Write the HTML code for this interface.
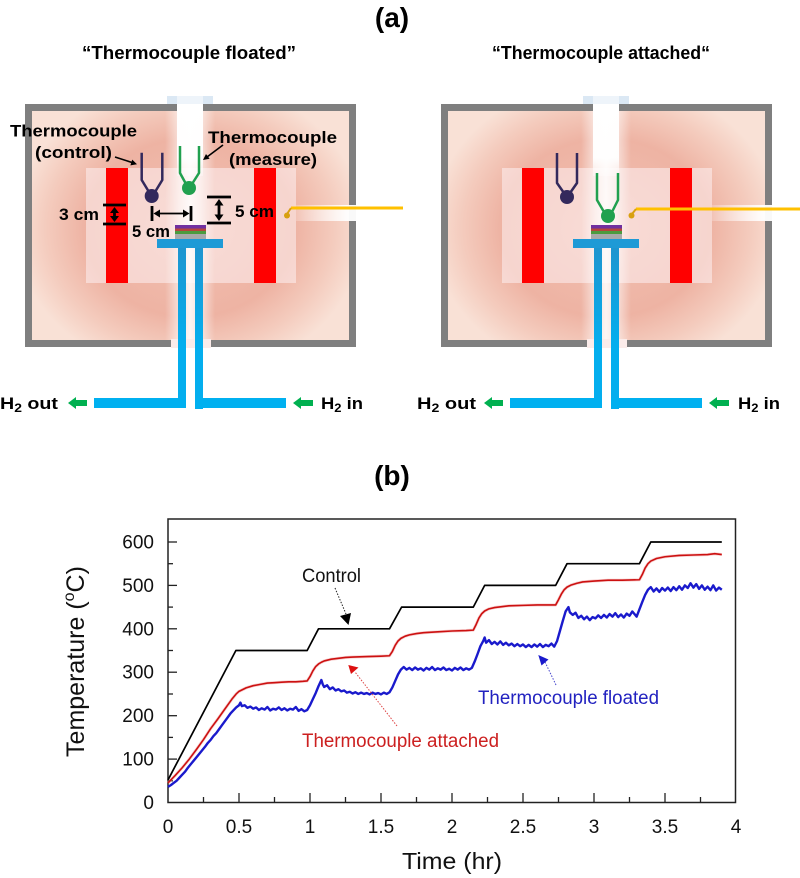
<!DOCTYPE html>
<html>
<head>
<meta charset="utf-8">
<style>
  html, body { margin: 0; padding: 0; background: #fff; }
  svg { display: block; }
</style>
</head>
<body>
<svg width="800" height="878" viewBox="0 0 800 878" xmlns="http://www.w3.org/2000/svg" font-family="'Liberation Sans', Arial, sans-serif">
  <defs>
    <radialGradient id="bg" gradientUnits="userSpaceOnUse" cx="190" cy="228" r="175" gradientTransform="translate(190 228) scale(1 0.85) translate(-190 -228)">
      <stop offset="0" stop-color="#f2c2b4"/>
      <stop offset="0.6" stop-color="#eeb3a3"/>
      <stop offset="0.82" stop-color="#f4cbbd"/>
      <stop offset="1" stop-color="#f9e1d6"/>
    </radialGradient>
    <linearGradient id="cband" x1="0" y1="0" x2="1" y2="0">
      <stop offset="0" stop-color="#fff" stop-opacity="0"/>
      <stop offset="0.3" stop-color="#fff" stop-opacity="0.6"/>
      <stop offset="0.5" stop-color="#fff" stop-opacity="0.85"/>
      <stop offset="0.7" stop-color="#fff" stop-opacity="0.6"/>
      <stop offset="1" stop-color="#fff" stop-opacity="0"/>
    </linearGradient>
    <linearGradient id="topwhite" x1="0" y1="0" x2="0" y2="1">
      <stop offset="0" stop-color="#fff" stop-opacity="1"/>
      <stop offset="0.75" stop-color="#fff" stop-opacity="0.95"/>
      <stop offset="1" stop-color="#fff" stop-opacity="0.3"/>
    </linearGradient>
    <linearGradient id="strip" x1="0" y1="0" x2="1" y2="0">
      <stop offset="0" stop-color="#fff" stop-opacity="0.2"/>
      <stop offset="0.45" stop-color="#fff" stop-opacity="0.95"/>
      <stop offset="1" stop-color="#fff" stop-opacity="1"/>
    </linearGradient>
    <linearGradient id="pipe" gradientUnits="userSpaceOnUse" x1="0" y1="248" x2="0" y2="345">
      <stop offset="0" stop-color="#1f95cf"/>
      <stop offset="1" stop-color="#04aeee"/>
    </linearGradient>
    <g id="furnace">
      <rect x="32" y="111" width="317" height="229" fill="url(#bg)"/>
      <rect x="86" y="168" width="210" height="115" fill="#fdf0f2" fill-opacity="0.55"/>
      <rect x="106" y="168" width="22" height="115" fill="#ff0000"/>
      <rect x="254" y="168" width="22" height="115" fill="#ff0000"/>
      <rect x="165" y="111" width="50" height="229" fill="url(#cband)"/>
      <rect x="177" y="104" width="26" height="72" fill="url(#topwhite)"/>
      <rect x="28.5" y="107.5" width="324" height="236" fill="none" stroke="#7f7f7f" stroke-width="7"/>
      <rect x="177" y="103" width="26" height="9" fill="#fff"/>
      <rect x="167" y="96" width="46" height="8" fill="#dbe8f4"/>
      <rect x="177" y="96" width="26" height="8" fill="#eef4fa"/>
      <rect x="171" y="339" width="40" height="9" fill="#fbecea"/>
      <rect x="296" y="205" width="114" height="16" fill="url(#strip)"/>
      <!-- pipes -->
      <rect x="157" y="239" width="66" height="9" fill="#1e9ad6"/>
      <rect x="178" y="248" width="8" height="160" fill="url(#pipe)"/>
      <rect x="195" y="248" width="8" height="161" fill="url(#pipe)"/>
      <rect x="94" y="398" width="92" height="10" fill="#00b0f0"/>
      <rect x="195" y="398" width="91" height="10" fill="#00b0f0"/>
      <!-- sample -->
      <rect x="175" y="225" width="31" height="3.5" fill="#7030a0"/>
      <rect x="175" y="228.5" width="31" height="2.5" fill="#b5463c"/>
      <rect x="175" y="231" width="31" height="3" fill="#4c9b3f"/>
      <rect x="175" y="234" width="31" height="5" fill="#a9a9a9"/>
      <!-- green arrows -->
      <polygon points="68,403 76,397 76,400 87,400 87,406 76,406 76,409" fill="#00b050"/>
      <polygon points="293,403 301,397 301,400 313,400 313,406 301,406 301,409" fill="#00b050"/>
    </g>
  </defs>

  <!-- (a) heading -->
  <text x="392" y="27" font-size="28" font-weight="bold" text-anchor="middle" fill="#000">(a)</text>
  <text x="82" y="59" font-size="18" font-weight="bold" textLength="214" lengthAdjust="spacingAndGlyphs" fill="#000">“Thermocouple floated”</text>
  <text x="492" y="59" font-size="18" font-weight="bold" textLength="218" lengthAdjust="spacingAndGlyphs" fill="#000">“Thermocouple attached“</text>

  <!-- left furnace -->
  <use href="#furnace"/>
  <!-- right furnace -->
  <use href="#furnace" transform="translate(416 0)"/>

  <!-- left thermocouples -->
  <g fill="none" stroke="#33295c" stroke-width="2.5" stroke-linejoin="round">
    <polyline points="141.7,152.7 141.7,180 149,192"/>
    <polyline points="162.3,152.7 162.3,180 155,192"/>
  </g>
  <circle cx="151.7" cy="196" r="7" fill="#33295c"/>
  <g fill="none" stroke="#21a04f" stroke-width="2.5" stroke-linejoin="round">
    <polyline points="180,146 180,173 186,184"/>
    <polyline points="199,146 199,173 192,184"/>
  </g>
  <circle cx="189" cy="188" r="7" fill="#21a04f"/>

  <!-- left yellow TC -->
  <line x1="291" y1="208" x2="403" y2="208" stroke="#ffc000" stroke-width="3"/>
  <line x1="291" y1="208" x2="287" y2="214" stroke="#d8a010" stroke-width="2"/>
  <circle cx="287" cy="215.5" r="3" fill="#d8a010"/>

  <!-- left labels -->
  <g font-weight="bold" fill="#000" font-size="17">
    <text x="10" y="136.5" textLength="127" lengthAdjust="spacingAndGlyphs">Thermocouple</text>
    <text x="35" y="158" textLength="77" lengthAdjust="spacingAndGlyphs">(control)</text>
    <text x="208" y="143" textLength="129" lengthAdjust="spacingAndGlyphs">Thermocouple</text>
    <text x="229" y="165" textLength="88" lengthAdjust="spacingAndGlyphs">(measure)</text>
    <text x="59" y="220" textLength="40" lengthAdjust="spacingAndGlyphs">3 cm</text>
    <text x="132" y="237" textLength="38" lengthAdjust="spacingAndGlyphs">5 cm</text>
    <text x="235" y="217" textLength="39" lengthAdjust="spacingAndGlyphs">5 cm</text>
  </g>
  <!-- label arrows -->
  <line x1="115" y1="157" x2="132" y2="162.5" stroke="#000" stroke-width="1.6"/>
  <polygon points="137,164.2 130.4,165.4 132.2,159.6" fill="#000"/>
  <line x1="223" y1="145" x2="207" y2="157" stroke="#000" stroke-width="1.6"/>
  <polygon points="203,160 209.6,158.8 206,154" fill="#000"/>

  <!-- dimension markers -->
  <g stroke="#000" stroke-width="2.8" fill="none">
    <line x1="103" y1="205" x2="126" y2="205"/>
    <line x1="103" y1="224" x2="126" y2="224"/>
    <line x1="114.5" y1="210" x2="114.5" y2="219"/>
    <line x1="152" y1="206" x2="152" y2="221"/>
    <line x1="191" y1="206" x2="191" y2="221"/>
    <line x1="207" y1="197" x2="231" y2="197"/>
    <line x1="207" y1="223" x2="231" y2="223"/>
    <line x1="219" y1="203" x2="219" y2="217"/>
  </g>
  <line x1="157" y1="213.5" x2="186" y2="213.5" stroke="#000" stroke-width="1.8"/>
  <g fill="#000">
    <polygon points="114.5,207 110,213 119,213"/>
    <polygon points="114.5,222 110,216 119,216"/>
    <polygon points="153.5,213.5 160,209.5 160,217.5"/>
    <polygon points="189.5,213.5 183,209.5 183,217.5"/>
    <polygon points="219,199 214.5,205.5 223.5,205.5"/>
    <polygon points="219,221 214.5,214.5 223.5,214.5"/>
  </g>

  <!-- right thermocouples -->
  <g fill="none" stroke="#33295c" stroke-width="2.5" stroke-linejoin="round">
    <polyline points="557,153 557,183 564,193"/>
    <polyline points="577,153 577,183 570,193"/>
  </g>
  <circle cx="567" cy="197" r="7" fill="#33295c"/>
  <g fill="none" stroke="#21a04f" stroke-width="2.5" stroke-linejoin="round">
    <polyline points="597,173 597,200 604,212"/>
    <polyline points="618,173 618,200 612,212"/>
  </g>
  <circle cx="608" cy="216" r="7" fill="#21a04f"/>
  <line x1="636" y1="209" x2="800" y2="209" stroke="#ffc000" stroke-width="3"/>
  <line x1="636" y1="209" x2="632" y2="214" stroke="#d8a010" stroke-width="2"/>
  <circle cx="631.5" cy="215.5" r="3" fill="#d8a010"/>

  <!-- H2 labels -->
  <g font-weight="bold" fill="#000" font-size="17">
    <text x="0" y="409" textLength="58" lengthAdjust="spacingAndGlyphs">H<tspan font-size="12" dy="3">2</tspan><tspan dy="-3"> out</tspan></text>
    <text x="321" y="409" textLength="42" lengthAdjust="spacingAndGlyphs">H<tspan font-size="12" dy="3">2</tspan><tspan dy="-3"> in</tspan></text>
    <text x="417" y="409" textLength="59" lengthAdjust="spacingAndGlyphs">H<tspan font-size="12" dy="3">2</tspan><tspan dy="-3"> out</tspan></text>
    <text x="738" y="409" textLength="42" lengthAdjust="spacingAndGlyphs">H<tspan font-size="12" dy="3">2</tspan><tspan dy="-3"> in</tspan></text>
  </g>

  <!-- (b) heading -->
  <text x="392" y="485" font-size="28" font-weight="bold" text-anchor="middle" fill="#000">(b)</text>

  <!-- chart frame -->
  <rect x="168" y="519" width="567.5" height="283.5" fill="none" stroke="#222" stroke-width="1.5"/>
  <g stroke="#222" stroke-width="1.3">
    <!-- y major -->
    <line x1="168" y1="759.1" x2="177" y2="759.1"/>
    <line x1="168" y1="715.7" x2="177" y2="715.7"/>
    <line x1="168" y1="672.2" x2="177" y2="672.2"/>
    <line x1="168" y1="628.8" x2="177" y2="628.8"/>
    <line x1="168" y1="585.4" x2="177" y2="585.4"/>
    <line x1="168" y1="542" x2="177" y2="542"/>
    <!-- y minor -->
    <line x1="168" y1="780.8" x2="173" y2="780.8"/>
    <line x1="168" y1="737.4" x2="173" y2="737.4"/>
    <line x1="168" y1="694" x2="173" y2="694"/>
    <line x1="168" y1="650.5" x2="173" y2="650.5"/>
    <line x1="168" y1="607.1" x2="173" y2="607.1"/>
    <line x1="168" y1="563.7" x2="173" y2="563.7"/>
    <!-- x major -->
    <line x1="239" y1="802.5" x2="239" y2="793"/>
    <line x1="310" y1="802.5" x2="310" y2="793"/>
    <line x1="381" y1="802.5" x2="381" y2="793"/>
    <line x1="452" y1="802.5" x2="452" y2="793"/>
    <line x1="523" y1="802.5" x2="523" y2="793"/>
    <line x1="594" y1="802.5" x2="594" y2="793"/>
    <line x1="665" y1="802.5" x2="665" y2="793"/>
    <!-- x minor -->
    <line x1="203.5" y1="802.5" x2="203.5" y2="797"/>
    <line x1="274.5" y1="802.5" x2="274.5" y2="797"/>
    <line x1="345.5" y1="802.5" x2="345.5" y2="797"/>
    <line x1="416.5" y1="802.5" x2="416.5" y2="797"/>
    <line x1="487.5" y1="802.5" x2="487.5" y2="797"/>
    <line x1="558.5" y1="802.5" x2="558.5" y2="797"/>
    <line x1="629.5" y1="802.5" x2="629.5" y2="797"/>
    <line x1="700.5" y1="802.5" x2="700.5" y2="797"/>
  </g>

  <!-- y tick labels -->
  <g font-size="19" fill="#111" text-anchor="end">
    <text x="154" y="809">0</text>
    <text x="154" y="765.6">100</text>
    <text x="154" y="722.2">200</text>
    <text x="154" y="678.7">300</text>
    <text x="154" y="635.3">400</text>
    <text x="154" y="591.9">500</text>
    <text x="154" y="548.5">600</text>
  </g>
  <!-- x tick labels -->
  <g font-size="19" fill="#111" text-anchor="middle">
    <text x="168" y="833">0</text>
    <text x="239" y="833">0.5</text>
    <text x="310" y="833">1</text>
    <text x="381" y="833">1.5</text>
    <text x="452" y="833">2</text>
    <text x="523" y="833">2.5</text>
    <text x="594" y="833">3</text>
    <text x="665" y="833">3.5</text>
    <text x="736" y="833">4</text>
  </g>
  <text x="402" y="869" font-size="23" fill="#111" textLength="100" lengthAdjust="spacingAndGlyphs">Time (hr)</text>
  <text transform="translate(84 661.5) rotate(-90)" font-size="25" fill="#111" text-anchor="middle">Temperature (<tspan font-size="16" dy="-10">o</tspan><tspan dy="10">C)</tspan></text>

  <!-- data -->
  <g transform="translate(168 802.5) scale(142 -0.4342)" fill="none" stroke-linejoin="round">
    <path vector-effect="non-scaling-stroke" stroke="#f0a0a0" stroke-width="3" stroke-opacity="0.5"
      d="M0,45 L0.05,62 0.1,80 0.15,100 0.2,122 0.25,145 0.3,170 0.35,192 0.4,215 0.45,238 0.48,250 0.5,256 0.55,264 0.6,269 0.65,272 0.7,275 0.75,276 0.8,277 0.85,278 0.9,278 0.95,279 0.98,280 1.0,290 1.02,303 1.04,313 1.06,319 1.08,323 1.1,326 1.15,330 1.2,332 1.25,334 1.3,335 1.4,336 1.5,337 1.56,338 1.58,348 1.6,362 1.62,372 1.64,378 1.67,383 1.7,386 1.75,389 1.8,391 1.9,393 2.0,395 2.1,396 2.15,397 2.17,410 2.19,425 2.21,435 2.23,441 2.26,446 2.3,449 2.35,451 2.4,453 2.5,454 2.6,455 2.73,455 2.75,467 2.77,480 2.79,490 2.81,496 2.84,501 2.88,505 2.92,508 3.0,510 3.1,512 3.2,512 3.32,513 3.34,525 3.36,540 3.38,550 3.4,556 3.44,562 3.5,566 3.6,569 3.7,570 3.8,571 3.85,573 3.9,571"/>
    <path vector-effect="non-scaling-stroke" stroke="#cc1010" stroke-width="1.6"
      d="M0,45 L0.05,62 0.1,80 0.15,100 0.2,122 0.25,145 0.3,170 0.35,192 0.4,215 0.45,238 0.48,250 0.5,256 0.55,264 0.6,269 0.65,272 0.7,275 0.75,276 0.8,277 0.85,278 0.9,278 0.95,279 0.98,280 1.0,290 1.02,303 1.04,313 1.06,319 1.08,323 1.1,326 1.15,330 1.2,332 1.25,334 1.3,335 1.4,336 1.5,337 1.56,338 1.58,348 1.6,362 1.62,372 1.64,378 1.67,383 1.7,386 1.75,389 1.8,391 1.9,393 2.0,395 2.1,396 2.15,397 2.17,410 2.19,425 2.21,435 2.23,441 2.26,446 2.3,449 2.35,451 2.4,453 2.5,454 2.6,455 2.73,455 2.75,467 2.77,480 2.79,490 2.81,496 2.84,501 2.88,505 2.92,508 3.0,510 3.1,512 3.2,512 3.32,513 3.34,525 3.36,540 3.38,550 3.4,556 3.44,562 3.5,566 3.6,569 3.7,570 3.8,571 3.85,573 3.9,571"/>
    <path vector-effect="non-scaling-stroke" stroke="#1a1acc" stroke-width="2.4"
      d="M0,36 L0.02,40 0.04,45 0.06,50 0.08,57 0.1,64 0.12,71 0.14,80 0.16,88 0.18,96 0.2,104 0.22,112 0.24,120 0.26,128 0.28,137 0.3,144 0.32,153 0.34,160 0.36,169 0.38,178 0.4,187 0.42,196 0.44,205 0.46,212 0.48,219 0.5,224 0.51,230 0.52,222 0.54,224 0.56,218 0.58,221 0.6,216 0.62,219 0.64,213 0.66,217 0.68,214 0.7,220 0.72,212 0.74,216 0.76,214 0.78,219 0.8,213 0.82,217 0.84,212 0.86,216 0.88,214 0.9,220 0.92,211 0.94,215 0.96,210 0.98,213 1.0,224 1.02,238 1.04,252 1.06,268 1.08,282 1.09,272 1.1,266 1.12,270 1.14,261 1.16,265 1.18,258 1.2,261 1.22,256 1.24,258 1.26,253 1.28,255 1.3,251 1.32,254 1.34,250 1.36,253 1.38,250 1.4,252 1.42,249 1.44,253 1.46,250 1.48,252 1.5,249 1.52,253 1.54,250 1.56,254 1.58,265 1.6,280 1.62,295 1.64,306 1.66,312 1.68,306 1.7,310 1.72,305 1.74,311 1.76,306 1.78,309 1.8,304 1.82,310 1.84,306 1.86,312 1.88,305 1.9,309 1.92,306 1.94,311 1.96,305 1.98,308 2.0,304 2.02,310 2.04,306 2.06,311 2.08,305 2.1,309 2.12,306 2.14,310 2.16,325 2.18,342 2.2,360 2.22,372 2.23,380 2.24,368 2.26,374 2.28,365 2.3,370 2.32,364 2.34,371 2.36,363 2.38,368 2.4,362 2.42,366 2.44,360 2.46,365 2.48,360 2.5,364 2.52,358 2.54,363 2.56,358 2.58,364 2.6,359 2.62,365 2.64,358 2.66,363 2.68,360 2.7,366 2.72,359 2.74,372 2.76,395 2.78,418 2.8,440 2.82,450 2.83,438 2.85,432 2.87,437 2.89,425 2.91,430 2.93,422 2.95,428 2.97,420 2.99,427 3.01,424 3.03,431 3.05,425 3.07,432 3.09,426 3.11,434 3.13,428 3.15,436 3.17,427 3.19,433 3.21,426 3.23,435 3.25,430 3.27,440 3.29,432 3.3,428 3.32,445 3.34,462 3.36,478 3.38,490 3.4,496 3.42,486 3.44,493 3.46,485 3.48,494 3.5,488 3.52,495 3.54,487 3.56,496 3.58,489 3.6,498 3.62,490 3.64,500 3.66,494 3.68,505 3.7,495 3.72,503 3.74,492 3.76,500 3.78,490 3.8,497 3.82,489 3.84,500 3.86,488 3.88,495 3.9,490"/>
    <path vector-effect="non-scaling-stroke" stroke="#000" stroke-width="1.7"
      d="M0,52 L0.478,350 0.98,350 1.06,400 1.56,400 1.645,450 2.15,450 2.23,500 2.73,500 2.81,550 3.32,550 3.40,600 3.90,600"/>
  </g>

  <!-- annotations -->
  <text x="302" y="582" font-size="19" fill="#111" textLength="59" lengthAdjust="spacingAndGlyphs">Control</text>
  <line x1="335" y1="588" x2="346" y2="614" stroke="#222" stroke-width="1" stroke-dasharray="1.5,1.5"/>
  <polygon points="340,616 351,613 348.5,625" fill="#000"/>

  <text x="302" y="747" font-size="19" fill="#cc2020" textLength="197" lengthAdjust="spacingAndGlyphs">Thermocouple attached</text>
  <line x1="397" y1="726" x2="355" y2="672" stroke="#dd4444" stroke-width="1" stroke-dasharray="1.5,1.5"/>
  <polygon points="348.3,665 358.5,667.5 351,674" fill="#dd1111"/>

  <text x="478" y="704" font-size="19" fill="#2222c0" textLength="181" lengthAdjust="spacingAndGlyphs">Thermocouple floated</text>
  <line x1="556" y1="685" x2="545" y2="662" stroke="#4444cc" stroke-width="1" stroke-dasharray="1.5,1.5"/>
  <polygon points="538.3,655 548.5,659.5 541.5,665.5" fill="#1a1acc"/>
</svg>
</body>
</html>
